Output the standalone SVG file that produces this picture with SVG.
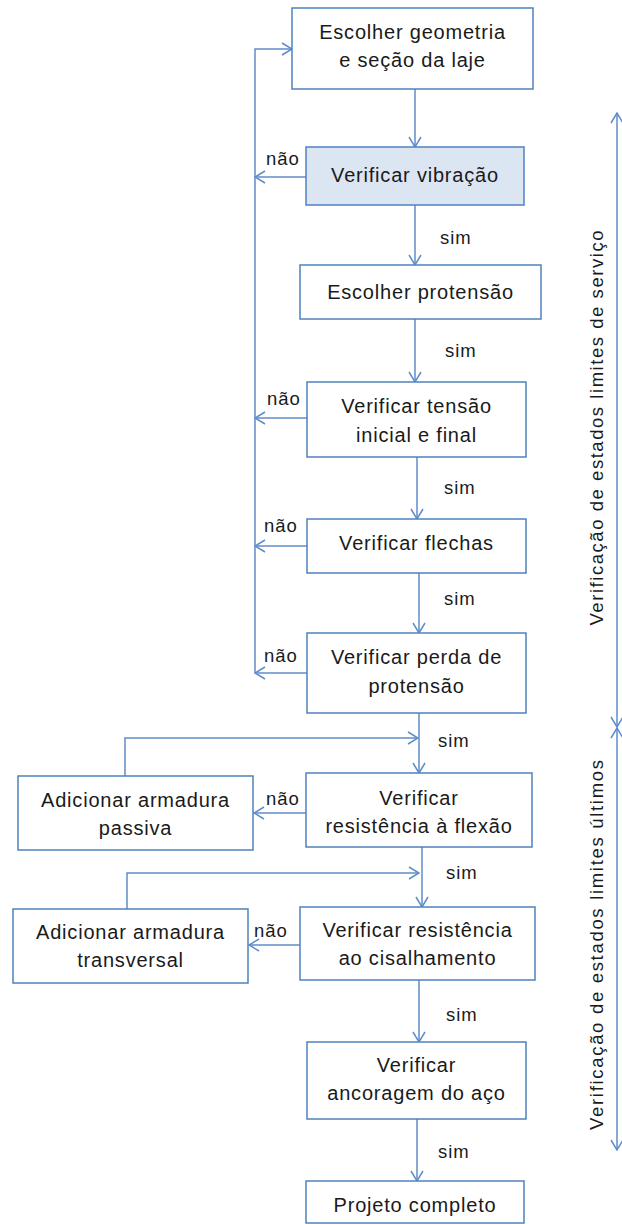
<svg xmlns="http://www.w3.org/2000/svg" width="622" height="1225" viewBox="0 0 622 1225">
<style>
.box{fill:#fff;stroke:#4f81bd;stroke-width:1.5}
.hl{fill:#dce6f2}
.t{font-family:"Liberation Sans",Arial,sans-serif;font-size:20px;letter-spacing:0.8px;fill:#1a1a1a;text-anchor:middle}
.l{font-family:"Liberation Sans",Arial,sans-serif;font-size:18.5px;letter-spacing:0.9px;fill:#1a1a1a}
.c{fill:none;stroke:#5f8dcb;stroke-width:1.5}
.v{font-family:"Liberation Sans",Arial,sans-serif;font-size:18.5px;fill:#1a1a1a;text-anchor:middle}
</style>
<defs>
<marker id="a" viewBox="0 0 12 14" refX="11" refY="7" markerWidth="12" markerHeight="14" markerUnits="userSpaceOnUse" orient="auto-start-reverse">
<path d="M1,1 L11,7 L1,13" fill="none" stroke="#5f8dcb" stroke-width="1.5"/>
</marker>
</defs>
<g id="connectors">
<line class="c" x1="415" y1="89" x2="415" y2="147" marker-end="url(#a)"/>
<line class="c" x1="415" y1="205" x2="415" y2="265" marker-end="url(#a)"/>
<line class="c" x1="415" y1="319" x2="415" y2="382" marker-end="url(#a)"/>
<line class="c" x1="417" y1="457" x2="417" y2="519" marker-end="url(#a)"/>
<line class="c" x1="419" y1="573" x2="419" y2="633" marker-end="url(#a)"/>
<line class="c" x1="419" y1="713" x2="419" y2="773" marker-end="url(#a)"/>
<line class="c" x1="422" y1="847" x2="422" y2="907" marker-end="url(#a)"/>
<line class="c" x1="419" y1="980" x2="419" y2="1042" marker-end="url(#a)"/>
<line class="c" x1="417" y1="1119" x2="417" y2="1181" marker-end="url(#a)"/>
<polyline class="c" points="255,673 255,49 292,49" marker-end="url(#a)"/>
<line class="c" x1="306" y1="177" x2="255" y2="177" marker-end="url(#a)"/>
<line class="c" x1="307" y1="418" x2="255" y2="418" marker-end="url(#a)"/>
<line class="c" x1="307" y1="546" x2="255" y2="546" marker-end="url(#a)"/>
<line class="c" x1="307" y1="673" x2="255" y2="673" marker-end="url(#a)"/>
<line class="c" x1="306" y1="813" x2="254" y2="813" marker-end="url(#a)"/>
<line class="c" x1="300" y1="945" x2="249" y2="945" marker-end="url(#a)"/>
<polyline class="c" points="125,776 125,738 418,738" marker-end="url(#a)"/>
<polyline class="c" points="127,909 127,873 419,873" marker-end="url(#a)"/>
<line class="c" x1="617" y1="113" x2="617" y2="727" marker-start="url(#a)" marker-end="url(#a)"/>
<line class="c" x1="617" y1="728" x2="617" y2="1150" marker-start="url(#a)" marker-end="url(#a)"/>
</g>
<g id="labels">
<text class="l" x="266" y="165">não</text>
<text class="l" x="267" y="405">não</text>
<text class="l" x="264" y="532">não</text>
<text class="l" x="264" y="662">não</text>
<text class="l" x="266" y="805">não</text>
<text class="l" x="254" y="937">não</text>
<text class="l" x="440" y="244">sim</text>
<text class="l" x="445" y="357">sim</text>
<text class="l" x="444" y="494">sim</text>
<text class="l" x="444" y="605">sim</text>
<text class="l" x="438" y="747">sim</text>
<text class="l" x="446" y="879">sim</text>
<text class="l" x="446" y="1021">sim</text>
<text class="l" x="438" y="1158">sim</text>
</g>
<g id="side-servico">
<text class="v" transform="translate(603,428) rotate(-90)" textLength="395" lengthAdjust="spacing">Verificação de estados limites de serviço</text>
</g>
<g id="side-ultimos">
<text class="v" transform="translate(603,945) rotate(-90)" textLength="370" lengthAdjust="spacing">Verificação de estados limites últimos</text>
</g>
<g id="n1"><rect class="box" x="292" y="8" width="241" height="81"/><text class="t" x="412.5" y="39">Escolher geometria</text><text class="t" x="412.5" y="67">e seção da laje</text></g>
<g id="n2"><rect class="box hl" x="306" y="147" width="218" height="58"/><text class="t" x="415" y="182">Verificar vibração</text></g>
<g id="n3"><rect class="box" x="300" y="265" width="241" height="54"/><text class="t" x="420.5" y="299">Escolher protensão</text></g>
<g id="n4"><rect class="box" x="307" y="382" width="219" height="75"/><text class="t" x="416.5" y="413">Verificar tensão</text><text class="t" x="416.5" y="442">inicial e final</text></g>
<g id="n5"><rect class="box" x="307" y="519" width="219" height="54"/><text class="t" x="416.5" y="550">Verificar flechas</text></g>
<g id="n6"><rect class="box" x="307" y="633" width="219" height="80"/><text class="t" x="416.5" y="664">Verificar perda de</text><text class="t" x="416.5" y="693">protensão</text></g>
<g id="n7"><rect class="box" x="306" y="773" width="226" height="74"/><text class="t" x="419" y="805">Verificar</text><text class="t" x="419" y="833">resistência à flexão</text></g>
<g id="n8"><rect class="box" x="18" y="776" width="235" height="74"/><text class="t" x="135.5" y="807">Adicionar armadura</text><text class="t" x="135.5" y="835">passiva</text></g>
<g id="n9"><rect class="box" x="300" y="907" width="235" height="73"/><text class="t" x="417.5" y="937">Verificar resistência</text><text class="t" x="417.5" y="965">ao cisalhamento</text></g>
<g id="n10"><rect class="box" x="13" y="909" width="235" height="74"/><text class="t" x="130.5" y="939">Adicionar armadura</text><text class="t" x="130.5" y="967">transversal</text></g>
<g id="n11"><rect class="box" x="307" y="1042" width="219" height="77"/><text class="t" x="416.5" y="1072">Verificar</text><text class="t" x="416.5" y="1100">ancoragem do aço</text></g>
<g id="n12"><rect class="box" x="306" y="1181" width="218" height="42"/><text class="t" x="415" y="1212">Projeto completo</text></g>
</svg>
